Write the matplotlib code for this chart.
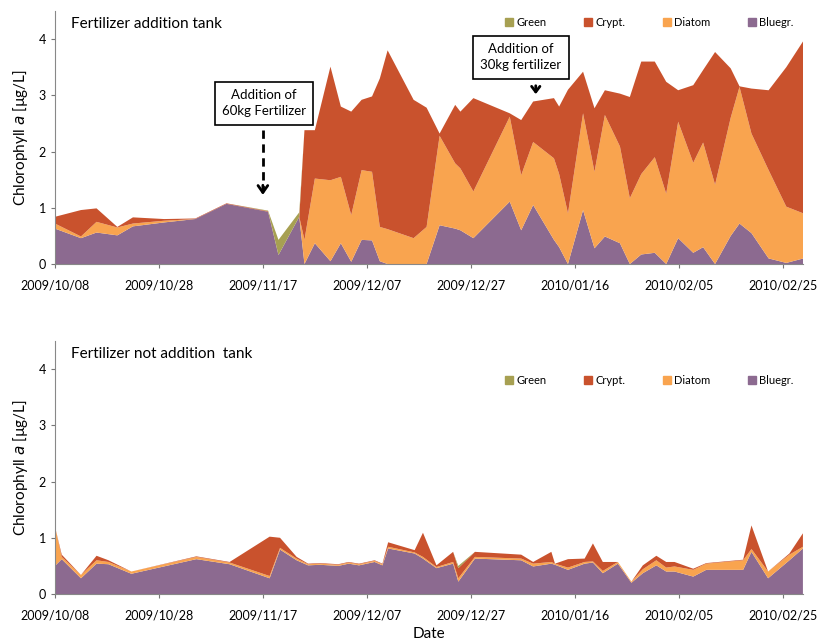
import matplotlib
matplotlib.use('Agg')
import matplotlib.pyplot as plt
import numpy as np
from matplotlib.patches import Patch

plt.rcParams['font.family'] = ['Lato', 'DejaVu Sans']

# days counted from 2009/10/08
tick_days = [0, 20, 40, 60, 80, 100, 120, 140]
tick_labels = ['2009/10/08', '2009/10/28', '2009/11/17', '2009/12/07',
               '2009/12/27', '2010/01/16', '2010/02/05', '2010/02/25']

# fertilizer addition tank
days_a = [0, 5, 8, 12, 15, 21, 27, 33, 41, 43, 47, 48, 50, 53, 55, 57, 59, 61, 62.5, 64,
          69, 71.5, 74, 77, 78, 80.5, 87.5, 89.7, 92, 96, 97, 98.7, 101.6, 103.8, 105.8,
          108.7, 110.6, 112.8, 115.4, 117.6, 119.9, 122.8, 124.7, 127, 130, 131.7, 134,
          137.3, 140.7, 144]
bluegr_a = [.63, .46, .56, .51, .67, .74, .80, 1.07, .93, .16, .84, 0, .37, .05, .37, .04, .43, .42, .05, 0,
            0, 0, .69, .63, .60, .46, 1.11, .60, 1.05, .43, .30, 0, .96, .28, .49,
            .37, 0, .17, .20, 0, .46, .20, .30, 0, .50, .72, .55,
            .10, .02, .10]
diatom_a = [.09, .03, .19, .14, .05, .03, 0, 0, 0, 0, 0, .43, 1.15, 1.44, 1.18, .83, 1.24, 1.22, .61, .62,
            .46, .66, 1.59, 1.16, 1.10, .83, 1.51, .98, 1.12, 1.45, 1.30, .90, 1.72, 1.36, 2.16,
            1.72, 1.17, 1.43, 1.70, 1.25, 2.07, 1.60, 1.86, 1.41, 2.10, 2.43, 1.77,
            1.57, 1.00, .80]
crypt_a = [.12, .47, .24, .01, .11, .03, .01, .01, .01, 0, 0, 1.95, .86, 2.02, 1.25, 1.84, 1.25, 1.34, 2.64, 3.18,
           2.46, 2.12, .04, 1.04, 1.01, 1.66, .06, .98, .72, 1.07, 1.20, 2.20, .74, 1.13, .44,
           .94, 1.80, 2.00, 1.70, 1.99, .56, 1.38, 1.29, 2.36, .88, .01, .80,
           1.42, 2.48, 3.07]
green_a = [0, 0, 0, 0, 0, 0, 0, 0, .01, .27, .08, 0, 0, 0, 0, 0, 0, 0, 0, 0,
           0, 0, 0, 0, 0, 0, 0, 0, 0, 0, 0, 0, 0, 0, 0,
           0, 0, 0, 0, 0, 0, 0, 0, 0, 0, 0, 0,
           0, 0, 0]

# fertilizer not addition tank
days_b = [0, 1.3, 5, 8, 10.3, 14.7, 27.2, 33.6, 41.3, 43.3, 46.5, 48.7, 51, 54.5, 56.5, 58.5,
          61.5, 63, 64.1, 69.2, 70.8, 73.4, 76.6, 77.6, 80.8, 89.7, 92, 95.5, 96.2, 98.7,
          101.9, 103.5, 105.4, 108.3, 110.9, 113.1, 115.7, 117.6, 119.2, 122.8, 125.3,
          132.4, 134, 137.2, 141.3, 143.9]
bluegr_b = [.50, .62, .28, .54, .53, .36, .62, .53, .28, .79, .60, .51, .52, .50, .54, .51,
            .57, .51, .81, .72, .63, .46, .54, .22, .63, .60, .49, .54, .52, .43,
            .54, .56, .37, .54, .20, .37, .51, .40, .40, .31, .43,
            .43, .75, .28, .60, .81]
diatom_b = [.70, .04, .06, .06, .04, .04, .04, .03, .04, .03, .03, .02, .02, .02, .02, .02,
            .02, .02, .03, .02, .03, .02, .03, .06, .03, .03, .05, .03, .02, .04,
            .03, .02, .04, .03, .02, .07, .09, .07, .09, .12, .11,
            .17, .05, .12, .10, .03]
crypt_b = [0, .04, 0, .08, .03, 0, .01, .01, .70, .18, .03, .01, .01, .01, .01, .01,
           .01, .01, .08, .04, .43, .03, .18, .18, .09, .07, .03, .18, 0, .15,
           .06, .32, .16, 0, 0, .07, .08, .10, .08, .02, .01,
           .01, .42, 0, .02, .24]
green_b = [0, 0, 0, 0, 0, 0, 0, 0, 0, 0, 0, 0, 0, 0, 0, 0,
           0, 0, 0, 0, 0, 0, 0, .04, 0, 0, 0, 0, 0, 0,
           0, 0, 0, 0, 0, 0, 0, 0, 0, 0, 0,
           0, 0, 0, 0, 0]

names = ['Bluegr.', 'Diatom', 'Crypt.', 'Green']
colors = ['#8c6a90', '#f9a44f', '#c9522d', '#a7a052']

fig = plt.figure(figsize=(8.18, 6.44), dpi=100)
ax1 = fig.add_axes([0.0672, 0.590, 0.915, 0.393])
ax2 = fig.add_axes([0.0672, 0.0776, 0.915, 0.393])


def draw_panel(ax, days, b, d, c, g, title, leg_y):
    ax.stackplot(days, b, d, c, g, colors=colors, edgecolor='none')
    ax.set_xlim(0, 144)
    ax.set_ylim(0, 4.5)
    ax.set_yticks([0, 1, 2, 3, 4])
    ax.set_xticks(tick_days)
    ax.set_xticklabels(tick_labels)
    ax.tick_params(axis='both', labelsize=9, color='#777777', length=3, direction='out')
    ax.tick_params(axis='x', pad=8)
    for s in ['top', 'right']:
        ax.spines[s].set_visible(False)
    for s in ['left', 'bottom']:
        ax.spines[s].set_color('#888888')
        ax.spines[s].set_linewidth(0.8)
    ax.set_ylabel('Chlorophyll $\\it{a}$ [µg/L]', fontsize=11, labelpad=6)
    ax.text(3, 4.2, title, fontsize=11)
    handles = [Patch(color=colors[i]) for i in [3, 2, 1, 0]]
    labels = [names[i] for i in [3, 2, 1, 0]]
    ax.legend(handles, labels, ncol=4, loc='center right', bbox_to_anchor=(1.0, leg_y),
              frameon=False, fontsize=8, handlelength=0.7, handleheight=0.7,
              handletextpad=0.3, columnspacing=3.4)


draw_panel(ax1, days_a, bluegr_a, diatom_a, crypt_a, green_a, 'Fertilizer addition tank', 0.955)
draw_panel(ax2, days_b, bluegr_b, diatom_b, crypt_b, green_b, 'Fertilizer not addition  tank', 0.845)
ax2.set_xlabel('Date', fontsize=11, labelpad=4)

# annotations
ax1.text(40.2, 2.86, 'Addition of\n60kg Fertilizer', ha='center', va='center', fontsize=9.5,
         linespacing=1.45,
         bbox=dict(boxstyle='square,pad=0.55', fc='white', ec='black', lw=1.2))
ax1.plot([40, 40], [2.38, 1.3], color='black', lw=2, linestyle=(0, (3, 2)))
ax1.annotate('', xy=(40, 1.18), xytext=(40, 1.45),
             arrowprops=dict(arrowstyle='->,head_width=0.35,head_length=0.5', lw=2, color='black'))

ax1.text(89.6, 3.68, 'Addition of\n30kg fertilizer', ha='center', va='center', fontsize=9.5,
         linespacing=1.45,
         bbox=dict(boxstyle='square,pad=0.55', fc='white', ec='black', lw=1.2))
ax1.annotate('', xy=(92.5, 2.97), xytext=(92.5, 3.22),
             arrowprops=dict(arrowstyle='->,head_width=0.3,head_length=0.4', lw=2, color='black'))

plt.savefig('out.png', dpi=100)
